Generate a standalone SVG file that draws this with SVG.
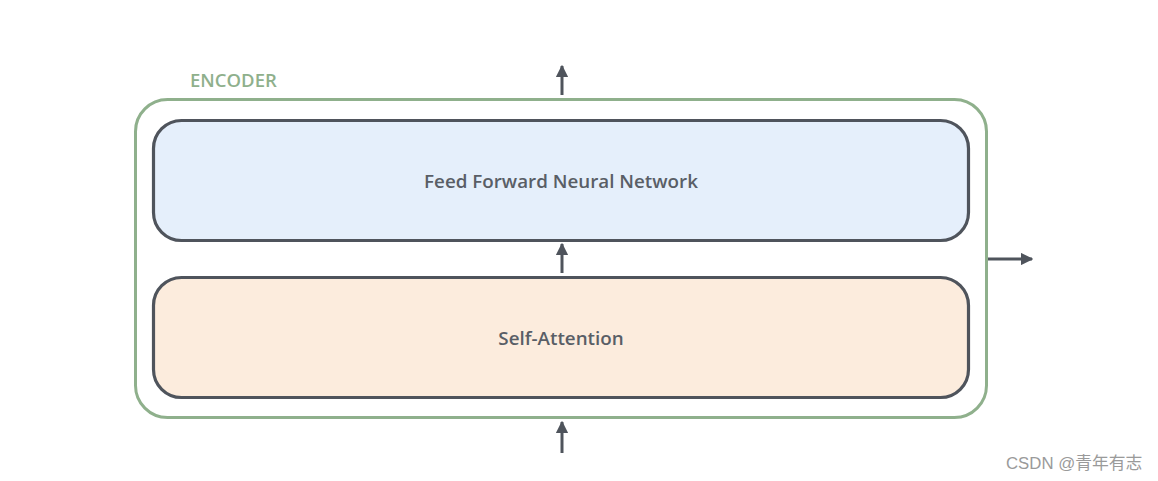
<svg xmlns="http://www.w3.org/2000/svg" width="1158" height="481" viewBox="0 0 1158 481">
<defs>
<style>
.box{stroke:#4f545c;stroke-width:3.2}
.lbl{font-family:"Open Sans","Noto Sans",sans-serif;font-weight:600;font-size:18.8px;fill:#595e66;text-anchor:middle}
.con{stroke:#4f545c;stroke-width:3;fill:none}
</style>
<marker id="ah" viewBox="0 0 10 10" refX="9" refY="5" markerWidth="4.2" markerHeight="4.2" orient="auto" markerUnits="strokeWidth">
<path d="M0,0 L10,5 L0,10 Z" fill="#4f545c"/>
</marker>
</defs>
<rect width="1158" height="481" fill="#ffffff"/>
<g id="encoder">
<rect x="135.5" y="99.5" width="851" height="318" rx="32" fill="none" stroke="#8fb08c" stroke-width="3"/>
<text x="190" y="87" font-family="'Open Sans','Noto Sans',sans-serif" font-weight="600" font-size="18.5" fill="#8fb08c">ENCODER</text>
</g>
<g id="ffn">
<rect class="box" x="153.5" y="120.5" width="815" height="120" rx="28" fill="#e5effb"/>
<text class="lbl" x="561" y="187.5">Feed Forward Neural Network</text>
</g>
<g id="selfattn">
<rect class="box" x="153.5" y="277.5" width="815" height="120" rx="28" fill="#fcecdd"/>
<text class="lbl" x="561" y="344.5">Self-Attention</text>
</g>
<g id="connectors">
<line class="con" x1="562" y1="95" x2="562" y2="66" marker-end="url(#ah)"/>
<line class="con" x1="562" y1="273" x2="562" y2="244" marker-end="url(#ah)"/>
<line class="con" x1="562" y1="453" x2="562" y2="422" marker-end="url(#ah)"/>
<line class="con" x1="988" y1="259" x2="1032" y2="259" marker-end="url(#ah)"/>
</g>
<text x="1006" y="469" font-family="'Liberation Sans','Noto Sans CJK SC',sans-serif" font-size="16.8" fill="#9a9a9a">CSDN @青年有志</text>
</svg>
